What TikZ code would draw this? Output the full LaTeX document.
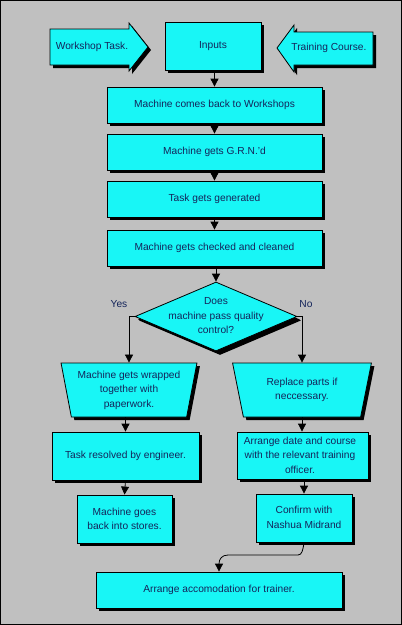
\documentclass[tikz,border=0pt]{standalone}
\usepackage{fontspec}
\setmainfont{Liberation Sans}
\usetikzlibrary{shapes.geometric,shadows,arrows.meta,calc}
\definecolor{bgc}{RGB}{192,192,192}
\definecolor{boxc}{RGB}{24,246,246}
\definecolor{txtc}{RGB}{20,36,90}
\begin{document}
\begin{tikzpicture}[x=1pt,y=-1pt,
  shd/.style={drop shadow={shadow xshift=3pt,shadow yshift=-3pt,fill=black,opacity=1}},
  outl/.style={draw=black,line width=0.8pt,fill=boxc,shd},
  box/.style={outl,rectangle,inner sep=0pt},
  lbl/.style={text=txtc,inner sep=0pt,align=center,font=\fontsize{10.2}{14.5}\selectfont},
  arr/.style={draw=black,line width=0.8pt,-{Triangle[width=8pt,length=8pt]}},
]
\useasboundingbox (0,0) rectangle (402,625);
\draw[black,line width=1pt,fill=bgc] (0.5,0.5) rectangle (401.5,624.5);

% block arrows
\path[outl] (50,29) -- (129,29) -- (129,23) -- (148,47) -- (129,71) -- (129,65) -- (50,65) -- cycle;
\node[lbl] (wt) at (92,47) {Workshop Task.};
\path[outl] (373,32) -- (294,32) -- (294,25) -- (277,48) -- (294,72) -- (294,65) -- (373,65) -- cycle;
\node[lbl] (tc) at (329,48) {Training Course.};

% boxes
\node[box,minimum width=96pt,minimum height=48pt] (inputs) at (213,46) {};
\node[lbl] at (inputs.center) {Inputs};
\node[box,minimum width=215pt,minimum height=36pt] (mcb) at (214.5,105) {};
\node[lbl] at (mcb.center) {Machine comes back to Workshops};
\node[box,minimum width=215pt,minimum height=36pt] (grn) at (214.5,152) {};
\node[lbl] at (grn.center) {Machine gets G.R.N.'d};
\node[box,minimum width=215pt,minimum height=36pt] (tgg) at (214.5,199) {};
\node[lbl] at (tgg.center) {Task gets generated};
\node[box,minimum width=215pt,minimum height=36pt] (mcc) at (214.5,248) {};
\node[lbl] at (mcc.center) {Machine gets checked and cleaned};

% decision
\node[outl,diamond,minimum width=162pt,minimum height=69pt,inner sep=0pt,
  drop shadow={shadow xshift=4pt,shadow yshift=-4pt,fill=black,opacity=1}] (dec) at (216,316.5) {};
\node[lbl] at (216,316) {Does\\machine pass quality\\control?};
\node[lbl] (yes) at (119,304) {Yes};
\node[lbl] (no) at (306,304) {No};

% trapezia
\node[outl,lbl,trapezium,trapezium left angle=77,trapezium right angle=77,shape border rotate=180,
  trapezium stretches=true,minimum width=136pt,minimum height=54pt,inner sep=1pt] (ltrap) at (129,390) {Machine gets wrapped\\together with\\paperwork.};
\node[outl,lbl,trapezium,trapezium left angle=75.5,trapezium right angle=75.5,shape border rotate=180,
  trapezium stretches=true,minimum width=140pt,minimum height=54pt,inner sep=1pt] (rtrap) at (302,390) {Replace parts if\\neccessary.};

% lower boxes
\node[box,minimum width=147pt,minimum height=48pt] (tre) at (125.5,456) {};
\node[lbl] at (tre.center) {Task resolved by engineer.};
\node[box,minimum width=95pt,minimum height=48pt] (mgb) at (124.5,519) {};
\node[lbl] at (mgb.center) {Machine goes\\back into stores.};
\node[box,minimum width=131pt,minimum height=47pt] (adc) at (302.5,455.5) {};
\node[lbl] at (300,455) {Arrange date and course\\with the relevant training\\officer.};
\node[box,minimum width=96pt,minimum height=48pt] (conf) at (304,518) {};
\node[lbl] at (304,517.5) {Confirm with\\Nashua Midrand};
\node[box,minimum width=246pt,minimum height=36pt] (acc) at (219,590) {};
\node[lbl] at (acc.center) {Arrange accomodation for trainer.};

% connectors
\draw[arr] (mcb.north |- inputs.south) -- (mcb.north);
\draw[arr] (mcb.south) -- (grn.north);
\draw[arr] (grn.south) -- (tgg.north);
\draw[arr] (tgg.south) -- (mcc.north);
\draw[arr] (dec.north |- mcc.south) -- (dec.north);
\draw[arr] (dec.west) -| (ltrap.north);
\draw[arr] (dec.east) -| (rtrap.north);
\draw[arr] (tre.north |- ltrap.south) -- (tre.north);
\draw[arr] (tre.south) -- (mgb.north);
\draw[arr] (rtrap.south) -- (rtrap.south |- adc.north);
\draw[arr] (conf.north |- adc.south) -- (conf.north);
\coordinate (cb1) at (298,555);
\coordinate (cb2) at (228,555);
\draw[arr] (conf.south) .. controls (303,550) and (302,555) .. (cb1) -- (cb2) .. controls (222,555) and (219,559) .. (acc.north);
\end{tikzpicture}
\end{document}
